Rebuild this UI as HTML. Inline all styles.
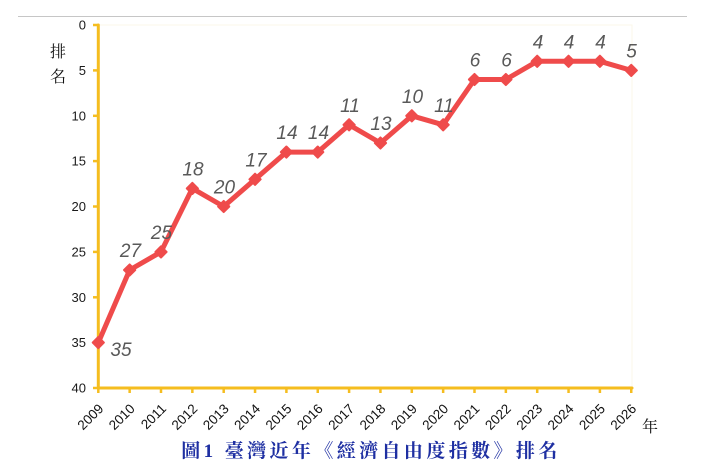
<!DOCTYPE html>
<html>
<head>
<meta charset="utf-8">
<style>
html,body{margin:0;padding:0;background:#fff;}
svg{display:block;}
</style>
</head>
<body>
<svg width="706" height="472" viewBox="0 0 706 472" xmlns="http://www.w3.org/2000/svg">
  <rect x="0" y="0" width="706" height="472" fill="#ffffff"/>
  <line x1="18" y1="16.5" x2="687" y2="16.5" stroke="#c6c6c6" stroke-width="1"/>
  <rect x="98" y="25" width="534" height="363" fill="none" stroke="#fbf7ea" stroke-width="1"/>

  <g stroke="#F5BD1F" stroke-width="3" stroke-linecap="round">
    <line x1="98.3" y1="25" x2="98.3" y2="388"/>
    <line x1="98.3" y1="388" x2="632" y2="388"/>
  </g>
  <g stroke="#F5BD1F" stroke-width="2.5">
    <line x1="93" y1="25" x2="98" y2="25"/>
    <line x1="93" y1="70.4" x2="98" y2="70.4"/>
    <line x1="93" y1="115.8" x2="98" y2="115.8"/>
    <line x1="93" y1="161.1" x2="98" y2="161.1"/>
    <line x1="93" y1="206.5" x2="98" y2="206.5"/>
    <line x1="93" y1="251.9" x2="98" y2="251.9"/>
    <line x1="93" y1="297.3" x2="98" y2="297.3"/>
    <line x1="93" y1="342.6" x2="98" y2="342.6"/>
    <line x1="93" y1="388" x2="98" y2="388"/>

    <line x1="98.3" y1="388" x2="98.3" y2="393"/>
    <line x1="129.65" y1="388" x2="129.65" y2="393"/>
    <line x1="161" y1="388" x2="161" y2="393"/>
    <line x1="192.35" y1="388" x2="192.35" y2="393"/>
    <line x1="223.7" y1="388" x2="223.7" y2="393"/>
    <line x1="255.05" y1="388" x2="255.05" y2="393"/>
    <line x1="286.4" y1="388" x2="286.4" y2="393"/>
    <line x1="317.75" y1="388" x2="317.75" y2="393"/>
    <line x1="349.1" y1="388" x2="349.1" y2="393"/>
    <line x1="380.45" y1="388" x2="380.45" y2="393"/>
    <line x1="411.8" y1="388" x2="411.8" y2="393"/>
    <line x1="443.15" y1="388" x2="443.15" y2="393"/>
    <line x1="474.5" y1="388" x2="474.5" y2="393"/>
    <line x1="505.85" y1="388" x2="505.85" y2="393"/>
    <line x1="537.2" y1="388" x2="537.2" y2="393"/>
    <line x1="568.55" y1="388" x2="568.55" y2="393"/>
    <line x1="599.9" y1="388" x2="599.9" y2="393"/>
    <line x1="631.25" y1="388" x2="631.25" y2="393"/>
  </g>

  <g font-family="Liberation Sans, sans-serif" font-size="13" fill="#1a1a1a" text-anchor="end">
    <text x="86" y="29.5">0</text>
    <text x="86" y="75">5</text>
    <text x="86" y="120.3">10</text>
    <text x="86" y="165.6">15</text>
    <text x="86" y="211">20</text>
    <text x="86" y="256.4">25</text>
    <text x="86" y="301.8">30</text>
    <text x="86" y="347.1">35</text>
    <text x="86" y="392.5">40</text>
  </g>

  <g font-family="Liberation Serif, Noto Serif CJK SC, serif" font-size="16" fill="#111" text-anchor="middle">
    <text x="58" y="57">排</text>
    <text x="58" y="82">名</text>
  </g>

  <g font-family="Liberation Sans, sans-serif" font-size="13.5" fill="#111" text-anchor="end">
    <text transform="translate(104.3,409.5) rotate(-45)">2009</text>
    <text transform="translate(135.65,409.5) rotate(-45)">2010</text>
    <text transform="translate(167,409.5) rotate(-45)">2011</text>
    <text transform="translate(198.35,409.5) rotate(-45)">2012</text>
    <text transform="translate(229.7,409.5) rotate(-45)">2013</text>
    <text transform="translate(261.05,409.5) rotate(-45)">2014</text>
    <text transform="translate(292.4,409.5) rotate(-45)">2015</text>
    <text transform="translate(323.75,409.5) rotate(-45)">2016</text>
    <text transform="translate(355.1,409.5) rotate(-45)">2017</text>
    <text transform="translate(386.45,409.5) rotate(-45)">2018</text>
    <text transform="translate(417.8,409.5) rotate(-45)">2019</text>
    <text transform="translate(449.15,409.5) rotate(-45)">2020</text>
    <text transform="translate(480.5,409.5) rotate(-45)">2021</text>
    <text transform="translate(511.85,409.5) rotate(-45)">2022</text>
    <text transform="translate(543.2,409.5) rotate(-45)">2023</text>
    <text transform="translate(574.55,409.5) rotate(-45)">2024</text>
    <text transform="translate(605.9,409.5) rotate(-45)">2025</text>
    <text transform="translate(637.25,409.5) rotate(-45)">2026</text>
  </g>
  <text x="650" y="432" font-family="Liberation Serif, Noto Serif CJK SC, serif" font-size="16" fill="#111" text-anchor="middle">年</text>

  <polyline fill="none" stroke="#EF4B4B" stroke-width="5" stroke-linejoin="round" stroke-linecap="round"
    points="98.3,342.6 129.65,270 161,251.9 192.35,188.4 223.7,206.5 255.05,179.3 286.4,152.1 317.75,152.1 349.1,124.8 380.45,143 411.8,115.8 443.15,124.8 474.5,79.5 505.85,79.5 537.2,61.3 568.55,61.3 599.9,61.3 631.25,70.4"/>
  <g fill="#EF4B4B" stroke="#EF4B4B" stroke-width="2" stroke-linejoin="round">
    <polygon points="98.3,337 103.9,342.6 98.3,348.2 92.7,342.6"/>
    <polygon points="129.65,264.4 135.25,270 129.65,275.6 124.05,270"/>
    <polygon points="161,246.3 166.6,251.9 161,257.5 155.4,251.9"/>
    <polygon points="192.35,182.8 197.95,188.4 192.35,194 186.75,188.4"/>
    <polygon points="223.7,200.9 229.3,206.5 223.7,212.1 218.1,206.5"/>
    <polygon points="255.05,173.7 260.65,179.3 255.05,184.9 249.45,179.3"/>
    <polygon points="286.4,146.5 292,152.1 286.4,157.7 280.8,152.1"/>
    <polygon points="317.75,146.5 323.35,152.1 317.75,157.7 312.15,152.1"/>
    <polygon points="349.1,119.2 354.7,124.8 349.1,130.4 343.5,124.8"/>
    <polygon points="380.45,137.4 386.05,143 380.45,148.6 374.85,143"/>
    <polygon points="411.8,110.2 417.4,115.8 411.8,121.4 406.2,115.8"/>
    <polygon points="443.15,119.2 448.75,124.8 443.15,130.4 437.55,124.8"/>
    <polygon points="474.5,73.9 480.1,79.5 474.5,85.1 468.9,79.5"/>
    <polygon points="505.85,73.9 511.45,79.5 505.85,85.1 500.25,79.5"/>
    <polygon points="537.2,55.7 542.8,61.3 537.2,66.9 531.6,61.3"/>
    <polygon points="568.55,55.7 574.15,61.3 568.55,66.9 562.95,61.3"/>
    <polygon points="599.9,55.7 605.5,61.3 599.9,66.9 594.3,61.3"/>
    <polygon points="631.25,64.8 636.85,70.4 631.25,76 625.65,70.4"/>
  </g>

  <g font-family="Liberation Sans, sans-serif" font-size="19" font-style="italic" fill="#595959" text-anchor="middle">
    <text x="121" y="356">35</text>
    <text x="130.5" y="257">27</text>
    <text x="161.5" y="239">25</text>
    <text x="193" y="175.5">18</text>
    <text x="224.5" y="193.5">20</text>
    <text x="256" y="166.5">17</text>
    <text x="287" y="139">14</text>
    <text x="318.5" y="139">14</text>
    <text x="350" y="112">11</text>
    <text x="381" y="130">13</text>
    <text x="412.5" y="103">10</text>
    <text x="444" y="112">11</text>
    <text x="475" y="66.5">6</text>
    <text x="506.5" y="66.5">6</text>
    <text x="538" y="48.5">4</text>
    <text x="569" y="48.5">4</text>
    <text x="600.5" y="48.5">4</text>
    <text x="631.5" y="57.5">5</text>
  </g>

  <text x="371" y="457" font-family="Liberation Serif, Noto Serif CJK SC, serif" font-size="19" font-weight="bold" fill="#1E2FA2" text-anchor="middle" letter-spacing="3.4">圖1 臺灣近年《經濟自由度指數》排名</text>
</svg>
</body>
</html>
